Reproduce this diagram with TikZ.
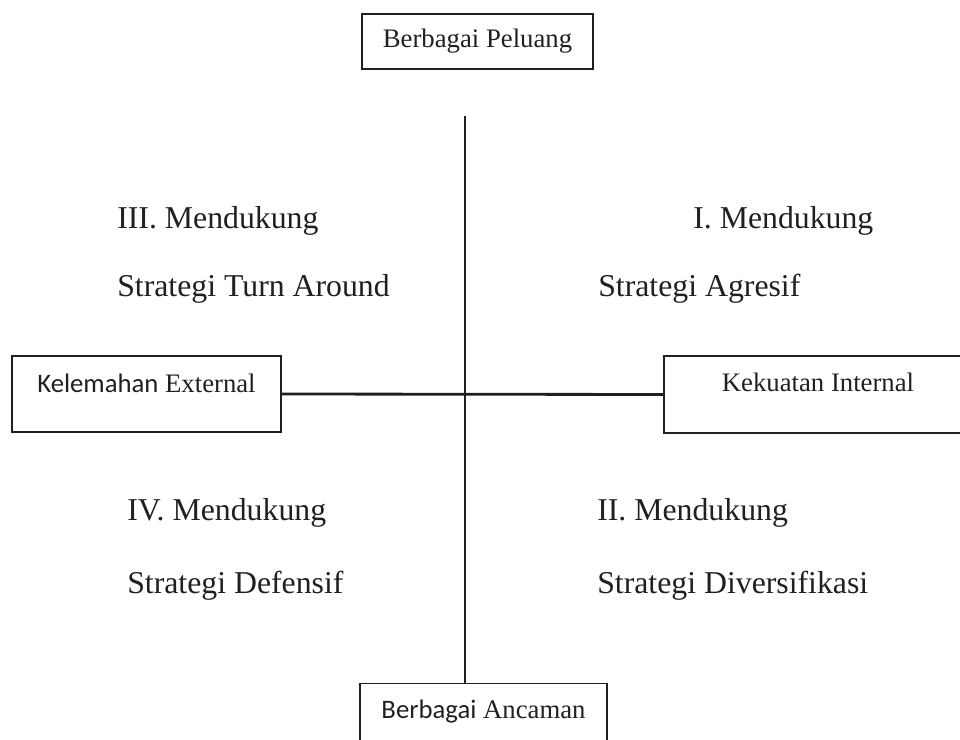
\documentclass[tikz,border=0pt]{standalone}
\usepackage{fontspec}
\setmainfont{Liberation Serif}
\newfontfamily\calibrifont{Carlito}
\usepackage{tikz}
\usetikzlibrary{positioning, calc}
\definecolor{inkdark}{RGB}{35,31,32}
\tikzset{
  sidebox/.style={rectangle, draw=inkdark, line width=0.9pt, align=center,
    inner sep=0pt, font=\fontsize{19}{23}\selectfont, text=inkdark},
  quadtext/.style={anchor=base west, inner sep=0pt,
    font=\fontsize{22.6}{27}\selectfont, text=inkdark},
  axis/.style={draw=inkdark, line width=1.2pt},
  thickaxis/.style={draw=inkdark, line width=2pt},
}
\begin{document}
\begin{tikzpicture}[x=0.025cm, y=-0.025cm]
\clip (0,0) rectangle (960,740);
\useasboundingbox (0,0) rectangle (960,740);

% boxes on the four ends
\node[sidebox, minimum width=5.775cm, minimum height=1.375cm] (peluang) at (477.5,41.5) {Berbagai Peluang};
\node[sidebox, minimum width=6.725cm, text height=0.925cm, text depth=0.975cm] (kelemahan) at (146.5,394) {{\calibrifont Kelemahan} External};
\node[sidebox, minimum width=8.4cm, text height=0.9cm, text depth=1.025cm] (kekuatan) at (832,394.5) {Kekuatan Internal\hspace*{0.7cm}};
\node[sidebox, minimum width=6.175cm, text height=0.875cm, text depth=0.925cm, anchor=north] (ancaman) at (483.5,683) {{\calibrifont Berbagai} Ancaman};

% axes
\coordinate (axtop) at (465,116);
\draw[axis] (axtop) -- (axtop |- ancaman.north);
\draw[thickaxis] (kelemahan.east) -- (kekuatan.west);

% quadrant texts
\node[quadtext] (q3) at (117,229) {III. Mendukung};
\node[quadtext] (s3) at (117,297) {Strategi Turn Around};
\node[quadtext] (q1) at (693,229) {I. Mendukung};
\node[quadtext] (s1) at (598,297) {Strategi Agresif};
\node[quadtext] (q4) at (127,521) {IV. Mendukung};
\node[quadtext] (s4) at (127,593) {Strategi Defensif};
\node[quadtext] (q2) at (597,521) {II. Mendukung};
\node[quadtext] (s2) at (597,593) {Strategi Diversifikasi};

\end{tikzpicture}
\end{document}
